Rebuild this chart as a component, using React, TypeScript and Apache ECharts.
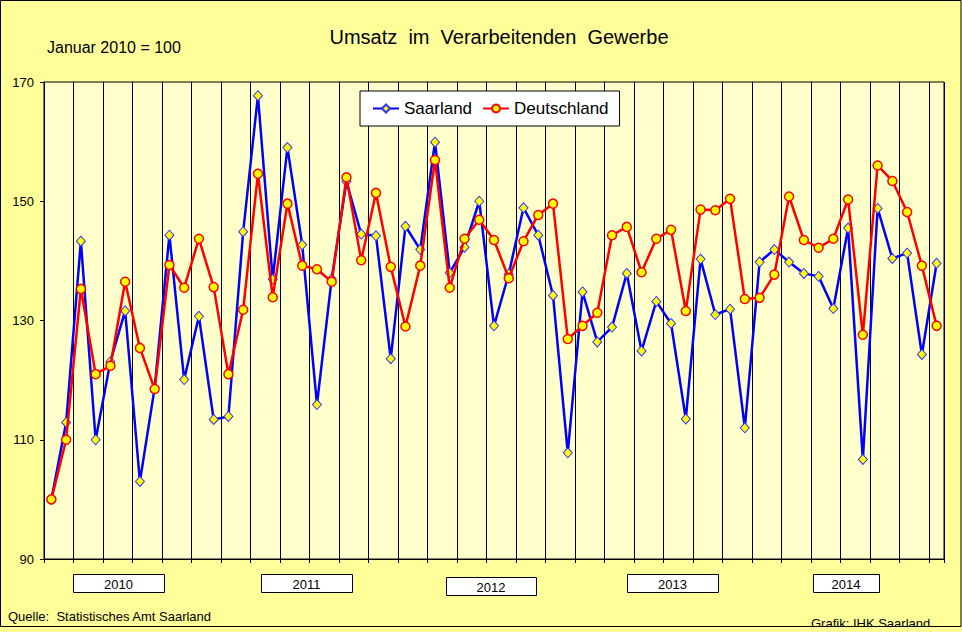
import React, { useEffect, useRef } from "react";
import * as echarts from "echarts";

const MONTHS = ["Jan", "Feb", "Mrz", "Apr", "Mai", "Jun", "Jul", "Aug", "Sep", "Okt", "Nov", "Dez"];
const YEARS = [2010, 2011, 2012, 2013, 2014, 2015];
const CATEGORIES: string[] = [];
YEARS.forEach((y) => MONTHS.forEach((m) => CATEGORIES.push(`${m} ${y}`)));
const categories = CATEGORIES.slice(0, 61);

const saarland = [
  100, 112.9, 143.3, 110.0, 123.1, 131.6, 103.0, 118.7, 144.3, 120.1, 130.7, 113.4,
  113.9, 144.9, 167.7, 136.9, 159.0, 142.7, 115.9, 137.0, 153.3, 144.5, 144.2, 123.6,
  145.8, 141.9, 159.9, 138.0, 142.3, 150.0, 129.1, 137.8, 148.9, 144.3, 134.2, 107.8,
  134.8, 126.4, 128.9, 137.9, 124.9, 133.2, 129.5, 113.5, 140.3, 131.0, 131.9, 112.0,
  139.8, 141.9, 139.8, 137.9, 137.4, 132.0, 145.5, 106.7, 148.8, 140.4, 141.3, 124.3,
  139.6,
];
const deutschland = [
  100, 110.0, 135.3, 121.0, 122.4, 136.5, 125.4, 118.5, 139.3, 135.5, 143.7, 135.6,
  121.0, 131.8, 154.6, 133.9, 149.6, 139.2, 138.6, 136.5, 154.0, 140.1, 151.4, 139.0,
  129.0, 139.2, 156.9, 135.5, 143.7, 146.9, 143.5, 137.1, 143.3, 147.7, 149.6, 126.9,
  129.1, 131.3, 144.3, 145.7, 138.1, 143.7, 145.2, 131.6, 148.6, 148.5, 150.4, 133.6,
  133.8, 137.7, 150.8, 143.5, 142.2, 143.7, 150.3, 127.6, 156.0, 153.4, 148.2, 139.2,
  129.1,
];
const yearLabels = ["2010", "2011", "2012", "2013", "2014"];
const Y_MIN = 90;
const Y_MAX = 170;
const Y_STEP = 20;

const FONT = "'Liberation Sans', Arial, sans-serif";

// layout of the year boxes (decoration)
const yearBoxes = [
  { x: 73, y: 574, w: 91, h: 18 },
  { x: 261, y: 574, w: 91, h: 18 },
  { x: 446, y: 577, w: 90, h: 18 },
  { x: 627, y: 574, w: 91, h: 18 },
  { x: 813, y: 574, w: 66, h: 18 },
];

export default function App() {
  const ref = useRef<HTMLDivElement>(null);
  useEffect(() => {
    if (!ref.current) return;
    const chart = echarts.init(ref.current, undefined, { renderer: "svg" });
    const graphics: any[] = [
      {
        type: "text",
        x: 499,
        y: 37,
        style: {
          text: "Umsatz  im  Verarbeitenden  Gewerbe",
          fontSize: 20,
          fontFamily: FONT,
          fill: "#000",
          align: "center",
          verticalAlign: "middle",
        },
      },
      {
        type: "text",
        x: 47,
        y: 47,
        style: {
          text: "Januar 2010 = 100",
          fontSize: 16,
          fontFamily: FONT,
          fill: "#000",
          align: "left",
          verticalAlign: "middle",
        },
      },
      ...yearLabels.map((t, i) => ({
        type: "group",
        children: [
          {
            type: "rect",
            shape: { x: yearBoxes[i].x + 0.5, y: yearBoxes[i].y + 0.5, width: yearBoxes[i].w, height: yearBoxes[i].h },
            style: { fill: "#fff", stroke: "#000", lineWidth: 1 },
          },
          {
            type: "text",
            x: yearBoxes[i].x + yearBoxes[i].w / 2,
            y: yearBoxes[i].y + yearBoxes[i].h / 2 + 1,
            style: {
              text: t,
              fontSize: 13,
              fontFamily: FONT,
              fill: "#000",
              align: "center",
              verticalAlign: "middle",
            },
          },
        ],
      })),
      {
        type: "text",
        x: 8,
        y: 616,
        style: {
          text: "Quelle:  Statistisches Amt Saarland",
          fontSize: 13,
          fontFamily: FONT,
          fill: "#000",
          align: "left",
          verticalAlign: "middle",
        },
      },
      {
        type: "text",
        x: 811,
        y: 623,
        style: {
          text: "Grafik: IHK Saarland",
          fontSize: 13,
          fontFamily: FONT,
          fill: "#000",
          align: "left",
          verticalAlign: "middle",
        },
      },
      {
        type: "rect",
        shape: { x: 0, y: 627, width: 962, height: 6 },
        style: { fill: "#FFFF99", stroke: "none" },
      },
      {
        type: "rect",
        shape: { x: 0.5, y: 0.5, width: 960.5, height: 626 },
        style: { fill: "none", stroke: "#000", lineWidth: 1 },
      },
    ];

    chart.setOption({
      animation: false,
      backgroundColor: "#FFFF99",
      textStyle: { fontFamily: FONT },
      grid: {
        left: 44,
        top: 82,
        width: 900,
        height: 477,
        show: true,
        backgroundColor: "#FFFFCC",
        borderColor: "#000",
        borderWidth: 1,
      },
      legend: {
        left: 360,
        top: 91,
        orient: "horizontal",
        backgroundColor: "#fff",
        borderColor: "#000",
        borderWidth: 1,
        borderRadius: 0,
        padding: [9, 11, 9, 12],
        itemWidth: 26,
        itemHeight: 10,
        itemGap: 10,
        textStyle: { fontSize: 17, color: "#000", fontFamily: FONT },
        data: ["Saarland", "Deutschland"],
      },
      xAxis: {
        type: "category",
        data: categories,
        boundaryGap: true,
        axisLine: { lineStyle: { color: "#000", width: 1 } },
        axisTick: { show: true, interval: 1, length: 4, lineStyle: { color: "#000" } },
        axisLabel: { show: false, interval: 1 },
        splitLine: { show: true, interval: 1, lineStyle: { color: "#000", width: 1 } },
      },
      yAxis: {
        type: "value",
        min: Y_MIN,
        max: Y_MAX,
        interval: Y_STEP,
        axisLine: { show: true, lineStyle: { color: "#000" } },
        axisTick: { show: true, length: 4, lineStyle: { color: "#000" } },
        axisLabel: { color: "#000", fontSize: 13, margin: 10, fontFamily: FONT },
        splitLine: { show: false },
      },
      series: [
        {
          name: "Saarland",
          type: "line",
          data: saarland,
          symbol: "diamond",
          symbolSize: [9, 10],
          showSymbol: true,
          showAllSymbol: true,
          lineStyle: { color: "#0000FF", width: 2.5 },
          itemStyle: { color: "#FFFF00", borderColor: "#3333FF", borderWidth: 1 },
          z: 2,
        },
        {
          name: "Deutschland",
          type: "line",
          data: deutschland,
          symbol: "circle",
          symbolSize: 9,
          showSymbol: true,
          showAllSymbol: true,
          lineStyle: { color: "#FF0000", width: 2.5 },
          itemStyle: { color: "#FFFF00", borderColor: "#FF0000", borderWidth: 1.5 },
          z: 3,
        },
      ],
      graphic: graphics,
    });
    return () => chart.dispose();
  }, []);

  return (
    <div
      ref={ref}
      style={{ position: "absolute", left: 0, top: 0, width: 962, height: 632 }}
    />
  );
}
